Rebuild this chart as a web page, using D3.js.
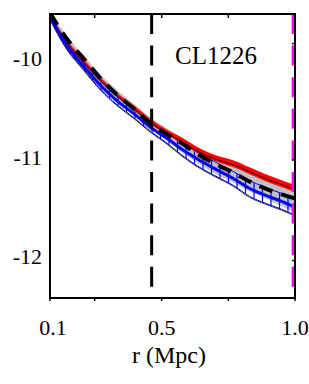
<!DOCTYPE html>
<meta charset="utf-8">
<style>
body{margin:0;background:#fff;}
svg text{font-family:"Liberation Serif","Times New Roman",serif;fill:#000;}
</style>
<body>
<script src="https://d3js.org/d3.v7.min.js"></script>
<script>
// radius (Mpc) at which the profiles were read
const radius   = [0.10, 0.16, 0.22, 0.28, 0.34, 0.40, 0.46, 0.52, 0.58, 0.64, 0.70, 0.77, 0.83, 0.89, 0.95, 1.00];
// grey band
const grayHigh = [-9.52, -9.76, -9.96, -10.15, -10.31, -10.45, -10.59, -10.70, -10.80, -10.90, -10.98, -11.05, -11.13, -11.20, -11.26, -11.31];
const grayLow  = [-9.59, -9.87, -10.10, -10.30, -10.44, -10.57, -10.72, -10.83, -10.95, -11.06, -11.16, -11.25, -11.34, -11.41, -11.49, -11.55];
// red band
const redMid   = [-9.56, -9.82, -10.02, -10.20, -10.36, -10.49, -10.63, -10.74, -10.83, -10.93, -11.00, -11.06, -11.13, -11.20, -11.26, -11.31];
const redErr   = [0.02, 0.02, 0.02, 0.02, 0.02, 0.025, 0.025, 0.025, 0.03, 0.03, 0.03, 0.035, 0.035, 0.035, 0.035, 0.035];
// blue band
const blueMid  = [-9.57, -9.86, -10.07, -10.26, -10.42, -10.55, -10.69, -10.80, -10.92, -11.02, -11.11, -11.21, -11.31, -11.38, -11.44, -11.50];
const blueErr  = [0.02, 0.03, 0.03, 0.04, 0.04, 0.04, 0.04, 0.05, 0.06, 0.07, 0.07, 0.07, 0.08, 0.08, 0.08, 0.08];
// black dashed profile
const blackMid = [-9.53, -9.79, -9.99, -10.19, -10.36, -10.50, -10.65, -10.76, -10.86, -10.97, -11.06, -11.15, -11.24, -11.31, -11.37, -11.41];

const rInner = 0.464;   // black dashed vertical
const rOuter = 0.993;   // magenta dashed vertical

const xTickValues = [0.1, 0.26, 0.5, 0.75, 1.0];
const xTickLabels = ["0.1", "", "0.5", "", "1.0"];
const yTickValues = [-10, -11, -12];
const yTickLabels = ["-10", "-11", "-12"];
const yRightTicks = [-9.84, -11.02, -12.04];

const W = 309, H = 384;
const pL = 50, pR = 295, pT = 14, pB = 298;

const x = d3.scaleLinear().domain([0.1, 0.5, 1.0]).range([pL, 161.7, pR]);
const y = d3.scaleLinear().domain([-9.54, -12.42]).range([pT, pB]);

const svg = d3.select("body").append("svg")
    .attr("width", W)
    .attr("height", H);

svg.append("rect").attr("width", W).attr("height", H).attr("fill", "#fff");

const defs = svg.append("defs");
defs.append("clipPath").attr("id", "plotClip")
    .append("rect")
    .attr("x", pL).attr("y", pT)
    .attr("width", pR - pL).attr("height", pB - pT);

const rows = radius.map((r, i) => ({
    r: r,
    gh: grayHigh[i], gl: grayLow[i],
    rm: redMid[i], re: redErr[i],
    bm: blueMid[i], be: blueErr[i],
    k: blackMid[i]
}));

const curve = d3.curveMonotoneX;
const band = (lo, hi) => d3.area().curve(curve)
    .x(d => x(d.r)).y0(d => y(lo(d))).y1(d => y(hi(d)));
const line = f => d3.line().curve(curve).x(d => x(d.r)).y(d => y(f(d)));

defs.append("clipPath").attr("id", "blueClip")
    .append("path")
    .attr("d", band(d => d.bm - d.be, d => d.bm + d.be)(rows));

const g = svg.append("g").attr("clip-path", "url(#plotClip)");

// grey band
g.append("path")
    .attr("d", band(d => d.gl, d => d.gh)(rows))
    .attr("fill", "#c0c0c0");

// blue hatched band
const hatch = g.append("g").attr("clip-path", "url(#blueClip)");
hatch.selectAll("line")
    .data(d3.range(pL, pR + 1, 8.5))
    .join("line")
    .attr("x1", d => d).attr("x2", d => d)
    .attr("y1", pT).attr("y2", pB)
    .attr("stroke", "#0000ff")
    .attr("stroke-width", 1.2);
g.append("path")
    .attr("d", line(d => d.bm + d.be)(rows))
    .attr("fill", "none").attr("stroke", "#0000ff").attr("stroke-width", 1);
g.append("path")
    .attr("d", line(d => d.bm - d.be)(rows))
    .attr("fill", "none").attr("stroke", "#0000ff").attr("stroke-width", 1);
g.append("path")
    .attr("d", line(d => d.bm - d.be - 0.01)(rows))
    .attr("fill", "none").attr("stroke", "#000").attr("stroke-width", 0.8);

// red band
g.append("path")
    .attr("d", band(d => d.rm - d.re, d => d.rm + d.re)(rows))
    .attr("fill", "#ff0000");
g.append("path")
    .attr("d", line(d => d.rm - 0.01)(rows))
    .attr("fill", "none").attr("stroke", "#000").attr("stroke-width", 0.8);

// blue line
g.append("path")
    .attr("d", line(d => d.bm)(rows))
    .attr("fill", "none").attr("stroke", "#0000ff").attr("stroke-width", 3);

// black thick dashed profile
g.append("path")
    .attr("d", line(d => d.k)(rows))
    .attr("fill", "none").attr("stroke", "#000")
    .attr("stroke-width", 4)
    .attr("stroke-dasharray", "14,9");

// vertical dashed lines
svg.append("line")
    .attr("x1", x(rInner)).attr("x2", x(rInner))
    .attr("y1", pT).attr("y2", pB)
    .attr("stroke", "#000").attr("stroke-width", 3)
    .attr("stroke-dasharray", "20,11.6");
svg.append("line")
    .attr("x1", x(rOuter)).attr("x2", x(rOuter))
    .attr("y1", pT).attr("y2", pB)
    .attr("stroke", "#ff00ff").attr("stroke-width", 3)
    .attr("stroke-dasharray", "20,11.6");

// frame
svg.append("rect")
    .attr("x", pL).attr("y", pT)
    .attr("width", pR - pL).attr("height", pB - pT)
    .attr("fill", "none").attr("stroke", "#000").attr("stroke-width", 2);

// x ticks (inner on top, outer on bottom)
svg.selectAll(".xt-top")
    .data(xTickValues.slice(1, -1))
    .join("line")
    .attr("class", "xt-top")
    .attr("x1", d => x(d)).attr("x2", d => x(d))
    .attr("y1", pT).attr("y2", pT + 4)
    .attr("stroke", "#000").attr("stroke-width", 1.5);
svg.selectAll(".xt-bot")
    .data(xTickValues)
    .join("line")
    .attr("class", "xt-bot")
    .attr("x1", d => x(d)).attr("x2", d => x(d))
    .attr("y1", pB).attr("y2", pB + 3)
    .attr("stroke", "#000").attr("stroke-width", 1.5);
svg.selectAll(".yt-right")
    .data(yRightTicks)
    .join("line")
    .attr("class", "yt-right")
    .attr("x1", pR - 3).attr("x2", pR)
    .attr("y1", d => y(d)).attr("y2", d => y(d))
    .attr("stroke", "#000").attr("stroke-width", 1.5);

// tick labels
svg.selectAll(".xl")
    .data(xTickValues)
    .join("text")
    .attr("class", "xl")
    .attr("x", (d, i) => x(d) + (i === 0 ? 3 : 0))
    .attr("y", 335)
    .attr("text-anchor", "middle")
    .attr("font-size", 22)
    .text((d, i) => xTickLabels[i]);

svg.selectAll(".yl")
    .data(yTickValues)
    .join("text")
    .attr("class", "yl")
    .attr("x", 42)
    .attr("y", d => y(d) + 7)
    .attr("text-anchor", "end")
    .attr("font-size", 22)
    .text((d, i) => yTickLabels[i]);

svg.append("text")
    .attr("x", 169).attr("y", 363)
    .attr("text-anchor", "middle")
    .attr("font-size", 24)
    .text("r (Mpc)");

svg.append("text")
    .attr("x", 175).attr("y", 64)
    .attr("font-size", 25)
    .text("CL1226");
</script>
</body>
</html>
